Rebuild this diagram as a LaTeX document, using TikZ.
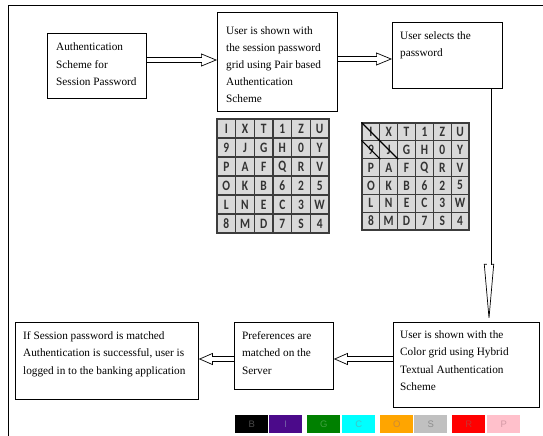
\documentclass[tikz,border=0pt]{standalone}
\usepackage{fontspec}
\setmainfont{Liberation Serif}
\newfontfamily\gridfont{Carlito}
\newfontfamily\barfont{Liberation Sans}
\usetikzlibrary{arrows.meta}
\definecolor{gridline}{HTML}{3C3C3C}
\definecolor{gridfill}{HTML}{D9D9D9}
\definecolor{cB}{HTML}{000000}\definecolor{tB}{HTML}{4A4A4A}
\definecolor{cI}{HTML}{4B0A8A}\definecolor{tI}{HTML}{7462A8}
\definecolor{cG}{HTML}{008000}\definecolor{tG}{HTML}{40A040}
\definecolor{cC}{HTML}{00FFFF}\definecolor{tC}{HTML}{40C4C4}
\definecolor{cO}{HTML}{FFA500}\definecolor{tO}{HTML}{CC8A38}
\definecolor{cS}{HTML}{C0C0C0}\definecolor{tS}{HTML}{8E8E8E}
\definecolor{cR}{HTML}{FF0000}\definecolor{tR}{HTML}{C83232}
\definecolor{cP}{HTML}{FFC0CB}\definecolor{tP}{HTML}{D49AA6}
\begin{document}
\begin{tikzpicture}[x=1bp,y=-1bp,
  box/.style={draw=black, line width=0.8bp, anchor=north west, inner sep=0pt},
  txt/.style={anchor=north west, align=left, inner sep=0pt, font=\fontsize{11.3}{17.5}\selectfont},
  shaft/.style={line width=0.7bp, double=white, double distance=4bp},
  headT/.style={line width=0.7bp, -{Triangle[length=16bp,width=13bp,fill=white]}},
  headB/.style={line width=0.7bp, -{Triangle[length=14bp,width=12bp,fill=white]}},
  headV/.style={line width=0.7bp, -{Triangle[length=58bp,width=10bp,fill=white]}},
  shaftV/.style={line width=0.7bp, double=white, double distance=3.6bp},
  cellL/.style={draw=gridline, fill=gridfill, line width=1.2bp, minimum width=18.67bp, minimum height=19bp, inner sep=0pt, text=black!80, font=\gridfont\bfseries\fontsize{11.5}{11.5}\selectfont},
  cellR/.style={cellL, minimum width=17.83bp, minimum height=17.83bp},
  bar/.style={minimum width=33bp, minimum height=18bp, inner sep=0pt, anchor=north west, font=\barfont\fontsize{9.5}{9.5}\selectfont}
]
\useasboundingbox (0,0) rectangle (543,436);
% outer frame
\draw[line width=0.8bp] (8,436) -- (8,5) -- (543,5);

% boxes
\node[box, minimum width=99bp, minimum height=65bp] (b1) at (47,33) {};
\node[box, minimum width=120bp, minimum height=99bp] (b2) at (217,12) {};
\node[box, minimum width=110bp, minimum height=66bp] (b3) at (392,22) {};
\node[box, minimum width=183bp, minimum height=77bp] (b4) at (15,322) {};
\node[box, minimum width=99bp, minimum height=67bp] (b5) at (234,322) {};
\node[box, minimum width=146bp, minimum height=85bp] (b6) at (393,322) {};

% texts
\node[txt] (t1) at (56,42.8) {Authentication\\Scheme for\\Session Password};
\node[txt, font=\fontsize{11.3}{17}\selectfont] (t2) at (226,26.5) {User is shown with\\the session password\\grid using Pair based\\Authentication\\Scheme};
\node[txt] (t3) at (400,31.5) {User selects the\\password};
\node[txt] (t4) at (23,331.3) {If Session password is matched\\Authentication is successful, user is\\logged in to the banking application};
\node[txt] (t5) at (242,331.3) {Preferences are\\matched on the\\Server};
\node[txt] (t6) at (400,330.3) {User is shown with the\\Color grid using Hybrid\\Textual Authentication\\Scheme};

% arrows top
\coordinate (p1) at (b1.east |- 0,60);
\draw[headT] (p1) -- (p1 -| b2.west);
\draw[shaft, shorten >=15.4bp] (p1) -- (p1 -| b2.west);
\coordinate (p2) at (b2.east |- 0,59);
\draw[headT] (p2) -- (p2 -| b3.west);
\draw[shaft, shorten >=15.4bp] (p2) -- (p2 -| b3.west);
% vertical arrow
\coordinate (p3) at (489,0 |- b3.south);
\draw[headV] (p3) -- (p3 |- b6.north);
\draw[shaftV, shorten >=57.4bp] (p3) -- (p3 |- b6.north);
% bottom arrows
\coordinate (p4) at (b6.west |- 0,359);
\draw[headB] (p4) -- (p4 -| b5.east);
\draw[shaft, shorten >=13.4bp] (p4) -- (p4 -| b5.east);
\coordinate (p5) at (b5.west |- 0,359);
\draw[headB] (p5) -- (p5 -| b4.east);
\draw[shaft, shorten >=13.4bp] (p5) -- (p5 -| b4.east);

% left grid
\foreach \row [count=\r from 0] in {{I,X,T,1,Z,U},{9,J,G,H,0,Y},{P,A,F,Q,R,V},{O,K,B,6,2,5},{L,N,E,C,3,W},{8,M,D,7,S,4}} {
  \foreach \ch [count=\c from 0] in \row {
    \node[cellL] (L-\r-\c) at (217+18.67*\c+9.335, 119+19*\r+9.5) {\scalebox{1}[1.25]{\ch}};
  }
}
% right grid
\foreach \row [count=\r from 0] in {{I,X,T,1,Z,U},{9,J,G,H,0,Y},{P,A,F,Q,R,V},{O,K,B,6,2,5},{L,N,E,C,3,W},{8,M,D,7,S,4}} {
  \foreach \ch [count=\c from 0] in \row {
    \node[cellR] (R-\r-\c) at (362+17.83*\c+8.915, 123+17.83*\r+8.915) {\scalebox{1}[1.25]{\ch}};
  }
}
\draw[line width=1.1bp] (R-0-0.north west) -- (R-1-1.south east);
\draw[line width=1.1bp] (R-1-0.north west) -- (R-1-0.south east);

% colour bar
\foreach \lt/\cc/\tc/\xx in {B/cB/tB/235, I/cI/tI/269, G/cG/tG/307, C/cC/tC/342, O/cO/tO/380, S/cS/tS/414, R/cR/tR/452, P/cP/tP/487} {
  \node[bar, fill=\cc, text=\tc] (bar-\lt) at (\xx,415) {\lt};
}
\end{tikzpicture}
\end{document}
